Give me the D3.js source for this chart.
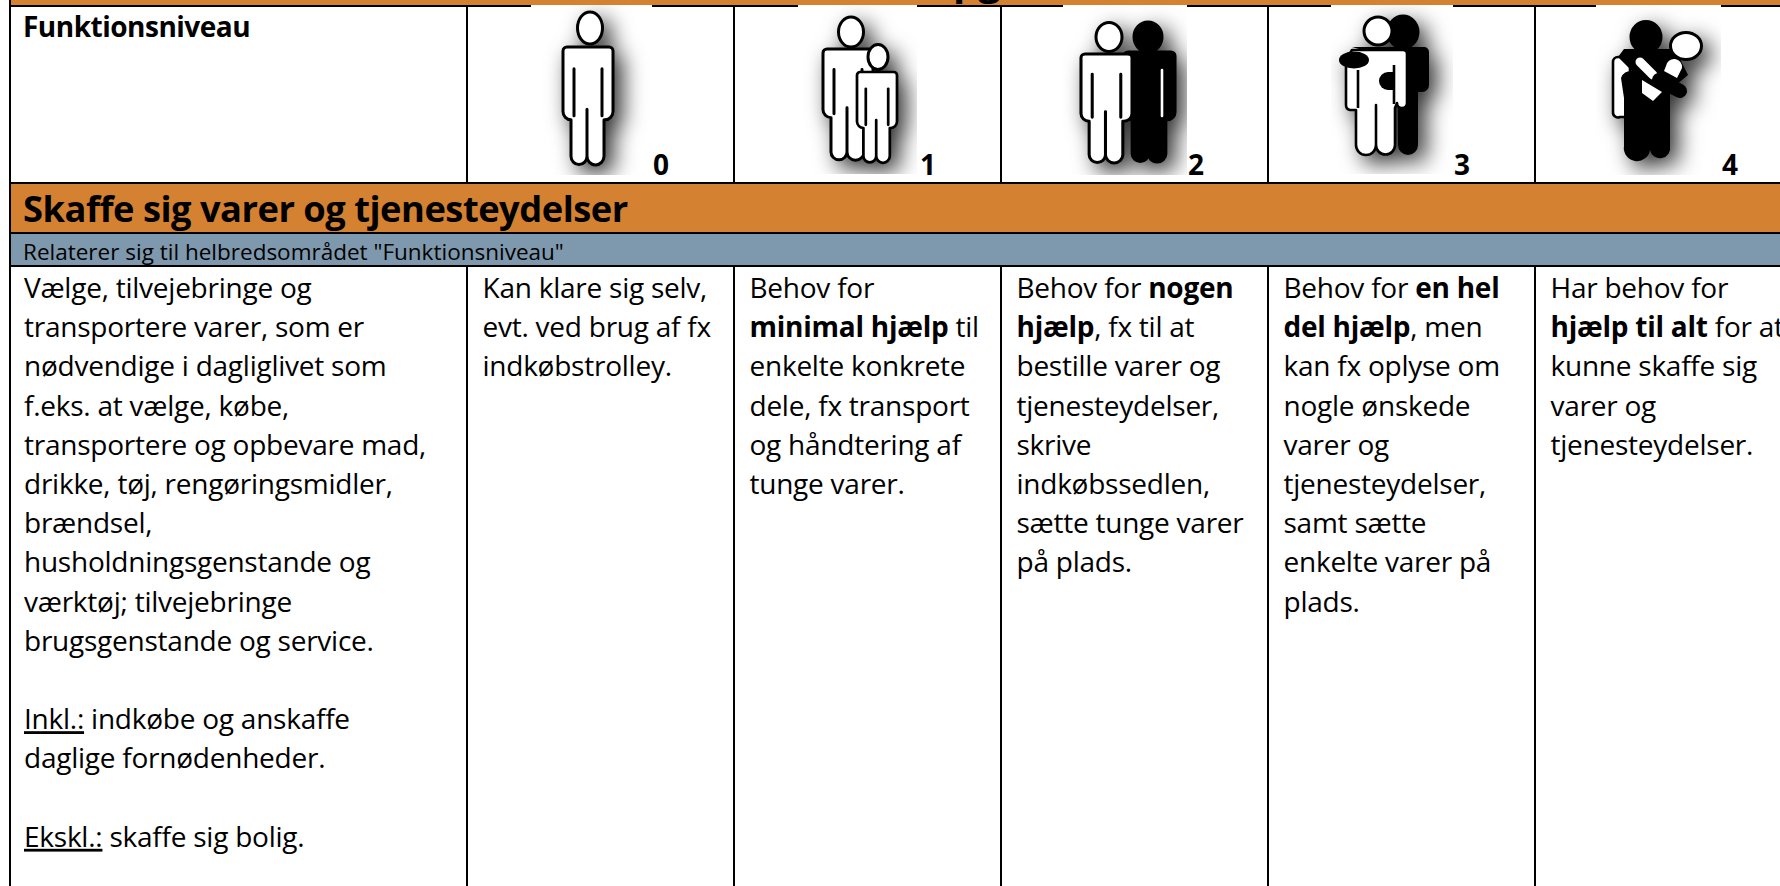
<!DOCTYPE html>
<html><head>
<meta charset="utf-8">
<title>Skaffe sig varer og tjenesteydelser</title>
<script src="https://d3js.org/d3.v7.min.js"></script>
<style>
  html, body { margin: 0; padding: 0; background: #fff; overflow: hidden; }
  text { font-family: "Open Sans", "Noto Sans", sans-serif; fill: #000; }
  .b { font-weight: 700; }
</style>
</head>
<body>
<script>
// Table content
const pageTitle = "Praktiske opgaver";
const rowTitle = "Funktionsniveau";
const sectionTitle = "Skaffe sig varer og tjenesteydelser";
const relatedNote = 'Relaterer sig til helbredsområdet "Funktionsniveau"';
const levels = [0, 1, 2, 3, 4];

// ** = bold, __ = underlined, "" = empty line
const descriptionLines = [
  "Vælge, tilvejebringe og", "transportere varer, som er", "nødvendige i dagliglivet som",
  "f.eks. at vælge, købe,", "transportere og opbevare mad,", "drikke, tøj, rengøringsmidler,",
  "brændsel,", "husholdningsgenstande og", "værktøj; tilvejebringe",
  "brugsgenstande og service.", "", "__Inkl.:__ indkøbe og anskaffe",
  "daglige fornødenheder.", "", "__Ekskl.:__ skaffe sig bolig."
];
const level0Lines = ["Kan klare sig selv,", "evt. ved brug af fx", "indkøbstrolley."];
const level1Lines = ["Behov for", "**minimal hjælp** til", "enkelte konkrete", "dele, fx transport", "og håndtering af", "tunge varer."];
const level2Lines = ["Behov for **nogen**", "**hjælp**, fx til at", "bestille varer og", "tjenesteydelser,", "skrive", "indkøbssedlen,", "sætte tunge varer", "på plads."];
const level3Lines = ["Behov for **en hel**", "**del hjælp**, men", "kan fx oplyse om", "nogle ønskede", "varer og", "tjenesteydelser,", "samt sætte", "enkelte varer på", "plads."];
const level4Lines = ["Har behov for", "**hjælp til alt** for at", "kunne skaffe sig", "varer og", "tjenesteydelser."];
const levelLines = [level0Lines, level1Lines, level2Lines, level3Lines, level4Lines];

// Colours and layout
const orange = "#d48231";
const blue = "#7e99ad";
const width = 1780, height = 886;
const left = 9, firstColEdge = 467;
const rowTop = 6, rowHeader = 183, rowSection = 233, rowNote = 266;
const bodyFont = 28, bodySpacing = -0.24;

const svg = d3.select("body").append("svg")
  .attr("width", width).attr("height", height)
  .style("display", "block");

const colScale = d3.scaleBand().domain(levels).range([firstColEdge, 1802]);
const lineScale = d3.scaleLinear().domain([0, 14]).range([298, 846.8]);

// Bands
const band = (y0, y1, c) => svg.append("rect")
  .attr("x", left).attr("y", y0).attr("width", width - left).attr("height", y1 - y0).attr("fill", c);
band(0, rowTop, orange);
band(rowHeader, rowSection, orange);
band(rowSection, rowNote, blue);

// Grid lines
const hline = y => svg.append("rect").attr("x", left).attr("y", y - 1).attr("width", width - left).attr("height", 2).attr("fill", "#000");
[rowTop, rowHeader, rowSection, rowNote].forEach(hline);
svg.append("rect").attr("x", left).attr("y", 0).attr("width", 2).attr("height", height).attr("fill", "#000");
const edges = levels.map(d => colScale(d));
[[rowTop, rowHeader], [rowNote, height]].forEach(([y0, y1]) => {
  svg.selectAll(null).data(edges).enter().append("rect")
    .attr("x", d => d - 1).attr("y", y0).attr("width", 2).attr("height", y1 - y0).attr("fill", "#000");
});

// Text helpers
const parts = line => {
  const out = [];
  line.split(/(\*\*.*?\*\*|__.*?__)/).filter(s => s).forEach(s => {
    if (s.startsWith("**")) out.push({ t: s.slice(2, -2), cls: "b" });
    else if (s.startsWith("__")) out.push({ t: s.slice(2, -2), u: true });
    else out.push({ t: s });
  });
  return out;
};

const drawLines = (lines, x) => {
  const g = svg.append("g").attr("font-size", bodyFont).attr("letter-spacing", bodySpacing);
  const rows = g.selectAll("text").data(lines.map((l, i) => ({ l, i })).filter(d => d.l)).enter().append("text")
    .attr("x", x).attr("y", d => lineScale(d.i));
  rows.selectAll("tspan").data(d => parts(d.l)).enter().append("tspan")
    .attr("class", d => d.cls || null)
    .attr("text-decoration", d => d.u ? "underline" : null)
    .text(d => d.t);
};

drawLines(descriptionLines, 24);
levels.forEach(d => drawLines(levelLines[d], colScale(d) + 15.5));

// Title is cut by the top of the page, only the descenders of p and g show
const title = svg.append("text").attr("y", -5.5).attr("class", "b").attr("font-size", 40).text(pageTitle);
title.attr("x", 953 - title.node().getStartPositionOfChar(pageTitle.indexOf("p")).x);

svg.append("text").attr("x", 23).attr("y", 37).attr("class", "b").attr("font-size", 28).attr("letter-spacing", -0.5).text(rowTitle);
svg.append("text").attr("x", 23).attr("y", 222).attr("class", "b").attr("font-size", 36.3).attr("letter-spacing", -0.5).text(sectionTitle);
svg.append("text").attr("x", 23).attr("y", 260).attr("font-size", 22.5).text(relatedNote);

// Person pictogram, origin at the left shoulder
const personPath = "M4,0H46A4,4 0 0 1 50,4V62A8,8 0 0 1 42,70H41V105A8.5,8.5 0 0 1 24,105V60V105A8,8 0 0 1 8,105V70A8,8 0 0 1 0,62V4A4,4 0 0 1 4,0Z";
const armsPath = "M11,21V66M39,21V66";

const defs = svg.append("defs");
const shadow = defs.append("filter").attr("id", "shadow")
  .attr("x", "-60%").attr("y", "-40%").attr("width", "240%").attr("height", "200%");
shadow.append("feGaussianBlur").attr("in", "SourceGraphic").attr("stdDeviation", 0.45).attr("result", "soft");
shadow.append("feDropShadow").attr("in", "soft").attr("dx", 8).attr("dy", 8).attr("stdDeviation", 11)
  .attr("flood-color", "#000").attr("flood-opacity", 0.8);

const icon = (level, x0, x1, y1, draw) => {
  const id = "clip" + level;
  defs.append("clipPath").attr("id", id).append("rect").attr("x", x0).attr("y", rowTop - 1).attr("width", x1 - x0).attr("height", y1 - rowTop + 1);
  svg.append("rect").attr("x", x0).attr("y", rowTop - 1).attr("width", x1 - x0).attr("height", y1 - rowTop + 1).attr("fill", "#fff");
  const g = svg.append("g").attr("clip-path", `url(#${id})`).append("g").attr("filter", "url(#shadow)");
  draw(g);
};

const person = (g, x, y, sx, sy, fill, line, sw) => {
  const p = g.append("g").attr("transform", `translate(${x},${y}) scale(${sx},${sy})`);
  p.append("path").attr("d", personPath).attr("fill", fill).attr("stroke", "#000").attr("stroke-width", sw).attr("stroke-linejoin", "round");
  p.append("path").attr("d", armsPath).attr("fill", "none").attr("stroke", line).attr("stroke-width", sw).attr("stroke-linecap", "round");
};
const head = (g, cx, cy, rx, ry, fill) => g.append("ellipse")
  .attr("cx", cx).attr("cy", cy).attr("rx", rx).attr("ry", ry)
  .attr("fill", fill).attr("stroke", "#000").attr("stroke-width", 3);

icon(0, 531, 652, 175, g => {
  head(g, 590, 28, 12.5, 16, "#fff");
  person(g, 563, 47, 1, 1.04, "#fff", "#000", 3);
});
icon(1, 798, 917, 174, g => {
  head(g, 851, 32, 12.5, 15, "#fff");
  person(g, 823, 49, 1, 0.98, "#fff", "#000", 3);
  head(g, 878, 57, 10, 12.5, "#fff");
  person(g, 857, 72, 0.8, 0.8, "#fff", "#000", 3.4);
});
icon(2, 1063, 1187, 175, g => {
  head(g, 1148, 37, 14, 15, "#000");
  person(g, 1124, 52, 1.02, 0.97, "#000", "#000", 3);
  g.append("path").attr("d", "M1162,70V116").attr("stroke", "#fff").attr("stroke-width", 2.6).attr("stroke-linecap", "round");
  head(g, 1109, 37, 13, 14.5, "#fff");
  person(g, 1081, 54, 1.02, 0.96, "#fff", "#000", 3);
});
icon(3, 1331, 1453, 174, g => {
  head(g, 1403, 32, 15, 16, "#000");
  g.append("path").attr("d", "M1352,47H1424A5,5 0 0 1 1429,52V85A7,7 0 0 1 1422,92H1418V145A10,10 0 0 1 1398,145L1398,60Z").attr("fill", "#000");
  head(g, 1378, 31, 14, 14, "#fff");
  g.append("path")
    .attr("d", "M1352,50H1403A4,4 0 0 1 1407,54V103A5,5 0 0 1 1397,103L1395,108V145A9,9 0 0 1 1376,145V105V145A9,9 0 0 1 1356,145V110H1350A5,5 0 0 1 1346,105V60Z")
    .attr("fill", "#fff").attr("stroke", "#000").attr("stroke-width", 2.6).attr("stroke-linejoin", "round");
  g.append("path").attr("d", "M1394,65V104M1358,70V108").attr("stroke", "#000").attr("stroke-width", 2.6);
  g.append("ellipse").attr("cx", 1354).attr("cy", 60).attr("rx", 15).attr("ry", 8.5).attr("fill", "#000");
  g.append("path").attr("d", "M1393,72H1388A9,9 0 0 0 1388,90H1393Z").attr("fill", "#000");
});
icon(4, 1596, 1721, 175, g => {
  g.append("path").attr("d", "M1618,57A5,5 0 0 0 1613,62V112A5,5 0 0 0 1620,117H1630V57Z").attr("fill", "#fff").attr("stroke", "#000").attr("stroke-width", 2.6);
  head(g, 1646, 37, 15, 15.5, "#000");
  g.append("path").attr("d", "M1624,49H1675L1688,75L1670,90V146A10,10 0 0 1 1650,150A11,11 0 0 1 1624,146V98L1621,78A10,10 0 0 1 1632,71L1618,57Z").attr("fill", "#000");
  g.append("path").attr("d", "M1640,62L1653,75").attr("stroke", "#fff").attr("stroke-width", 9).attr("stroke-linecap", "round");
  g.append("path").attr("d", "M1642,80L1662,92L1653,101L1642,93Z").attr("fill", "#fff");
  g.append("path").attr("d", "M1666,66A8,8 0 0 1 1682,68L1677,78L1664,71Z").attr("fill", "#fff");
  g.append("path").attr("d", "M1659,80L1680,91").attr("stroke", "#000").attr("stroke-width", 14).attr("stroke-linecap", "round");
  head(g, 1686, 46, 15.5, 13.5, "#fff");
});

// Level digits
const digitX = [653, 920, 1188, 1454, 1722];
svg.selectAll(null).data(levels).enter().append("text")
  .attr("class", "b").attr("font-size", 28)
  .attr("x", d => digitX[d]).attr("y", 175).text(d => d);
</script>
</body></html>
